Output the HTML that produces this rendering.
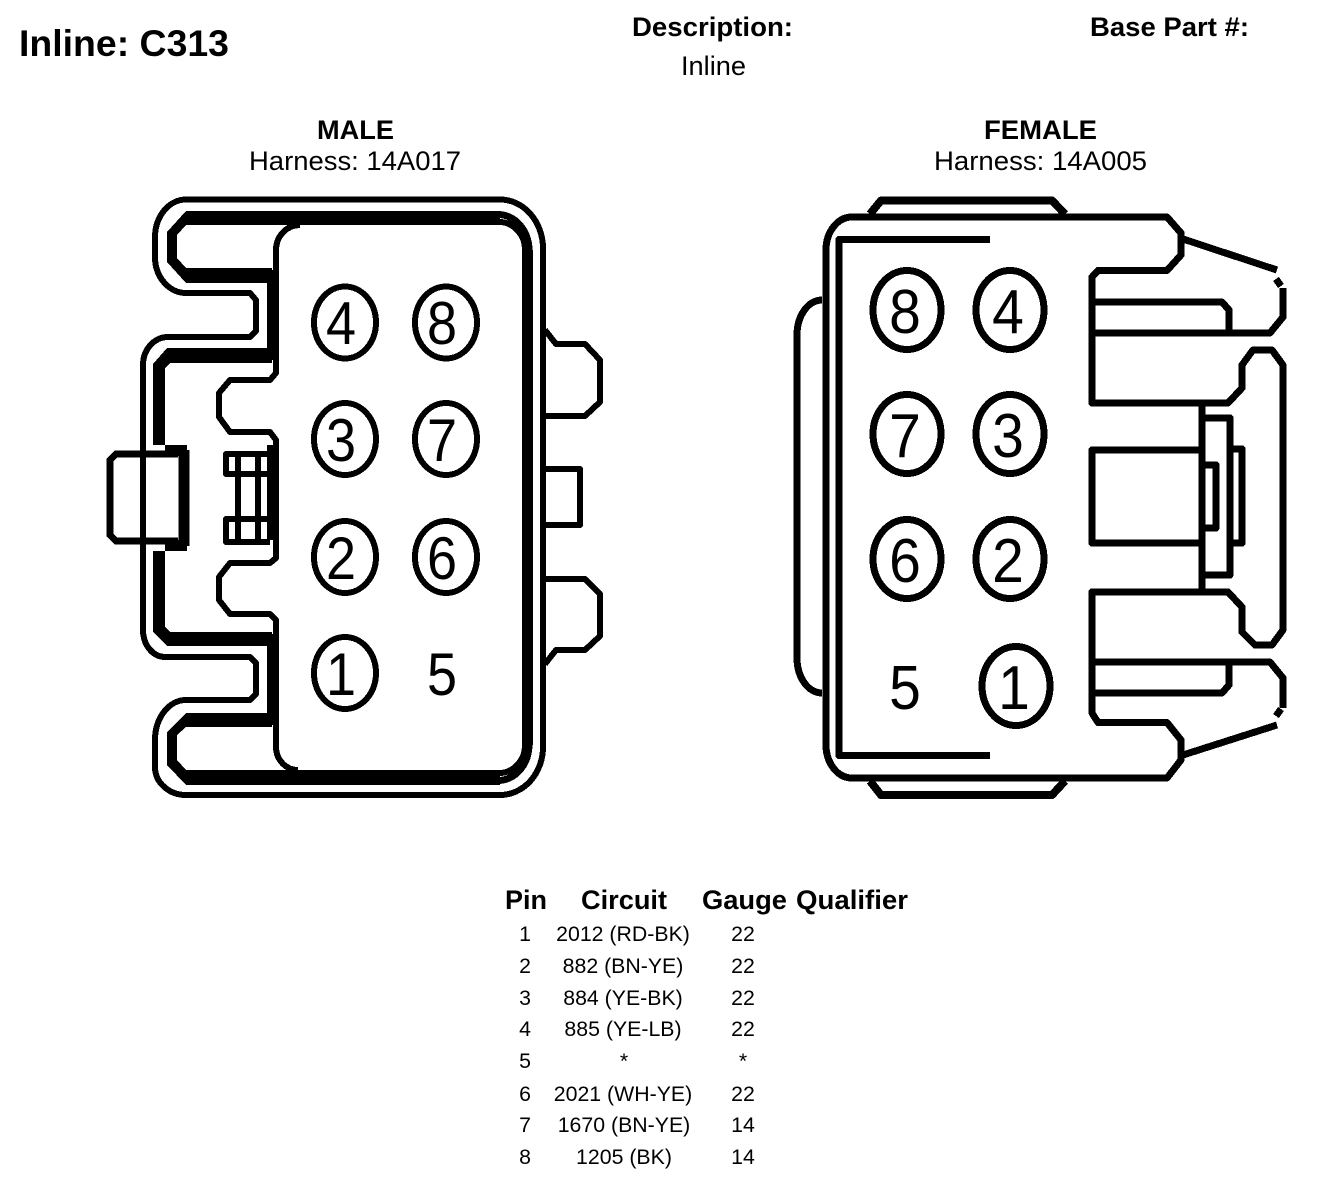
<!DOCTYPE html>
<html><head><meta charset="utf-8"><style>
html,body{margin:0;padding:0;background:#fff;width:1328px;height:1182px;overflow:hidden}
svg{display:block}
text{font-family:"Liberation Sans",sans-serif;fill:#000}
.b{font-weight:bold}
.t{font-size:27px}
.r{font-size:21.3px;text-anchor:middle}
.d{font-size:60px}
.f{font-size:62px}
</style></head><body>
<svg width="1328" height="1182" viewBox="0 0 1328 1182" xmlns="http://www.w3.org/2000/svg" shape-rendering="crispEdges">
<text class="b" x="19" y="56" font-size="37" textLength="210" lengthAdjust="spacingAndGlyphs">Inline: C313</text>
<text class="b t" x="632" y="36" textLength="161" lengthAdjust="spacingAndGlyphs">Description:</text>
<text class="t" x="681" y="75" textLength="65" lengthAdjust="spacingAndGlyphs">Inline</text>
<text class="b t" x="1090" y="36" textLength="159" lengthAdjust="spacingAndGlyphs">Base Part #:</text>
<text class="b t" x="317" y="139" textLength="77" lengthAdjust="spacingAndGlyphs">MALE</text>
<text class="t" x="249" y="170" textLength="212" lengthAdjust="spacingAndGlyphs">Harness: 14A017</text>
<text class="b t" x="984" y="139" textLength="113" lengthAdjust="spacingAndGlyphs">FEMALE</text>
<text class="t" x="934" y="170" textLength="213" lengthAdjust="spacingAndGlyphs">Harness: 14A005</text>

<!-- MALE -->
<path fill="#000" d="M186 211H500V225H186L177 235V258L186 268H272V283H186L167 262V232Z"/>
<path fill="#000" d="M186 713H272V727H186L177 735V760L186 770H500V785H186L167 765V732Z"/>
<path fill="#000" d="M272 348H167L153 364V445H165V368L170 363H272Z"/>
<path fill="#000" d="M272 632H170L165 627V551H153V632L167 646H272Z"/>
<path fill="#000" d="M267 270H278V360H267ZM267 634H278V725H267ZM267 445H278V540H267ZM522 250H533V745H522Z"/>
<g fill="none" stroke="#000" stroke-linejoin="round">
<path stroke-width="6" d="M186 199.500H500A43 49 0 0 1 543 248V747A43 48 0 0 1 500 795H186A31 28 0 0 1 155 767V740A31 40 0 0 1 186 700H250L256 694V663L250 657H165A22 27 0 0 1 143 630V365A25 28 0 0 1 168 337H250L256 331V300L250 293H186A31 36 0 0 1 155 257V237A31 38 0 0 1 186 199.500Z"/>
<path stroke-width="7" d="M498 214.500A31 36 0 0 1 529 250M498 780.500A31 36 0 0 0 529 745"/>
<path stroke-width="6" d="M498 222A26 28 0 0 1 525 250M498 773A26 28 0 0 0 525 745"/>
<path stroke-width="6" d="M300 225A24 25 0 0 0 276 250V373L270 380H230L219 393V417L230 432H270L276 440V558L270 563H230L219 577V600L230 614H270L276 620V747A22 23 0 0 0 298 770"/>
<path stroke-width="7" d="M178 454H116L110 460V535L116 541H178"/>
<path stroke-width="11" d="M184 450V546M165 450.500H187M165 545.500H187"/>
<path stroke-width="6" d="M270 454H226V474H270M270 519H226V542H270M238 454V542M258 454V542"/>
<path stroke-width="6" d="M545 330L556 344H585L600 360V402L585 416H543M543 469H580V525H543M543 579H585L600 594V636L585 650H556L545 664"/>
<g stroke-width="6">
<ellipse cx="345" cy="322.500" rx="31" ry="36"/>
<ellipse cx="446" cy="322.500" rx="31" ry="36"/>
<ellipse cx="345" cy="439" rx="31" ry="36"/>
<ellipse cx="446" cy="439" rx="31" ry="36"/>
<ellipse cx="345" cy="557" rx="31" ry="36"/>
<ellipse cx="446" cy="557" rx="31" ry="36"/>
<ellipse cx="345" cy="673" rx="31" ry="36"/>
</g>
</g>
<g text-anchor="middle">
<text class="d" transform="translate(341 344) scale(.9 1)">4</text>
<text class="d" transform="translate(442 344) scale(.9 1)">8</text>
<text class="d" transform="translate(341 461) scale(.9 1)">3</text>
<text class="d" transform="translate(442 461) scale(.9 1)">7</text>
<text class="d" transform="translate(341 579) scale(.9 1)">2</text>
<text class="d" transform="translate(442 579) scale(.9 1)">6</text>
<text class="d" transform="translate(341 695) scale(.9 1)">1</text>
<text class="d" transform="translate(442 695) scale(.9 1)">5</text>
</g>

<!-- FEMALE -->
<g fill="none" stroke="#000" stroke-width="7" stroke-linejoin="round">
<path d="M852 217H1167L1181 233V255L1167 270.500H1098L1092 277V403H1228L1242 388V365L1253 350H1272L1283 365V630L1272 645H1255L1242 632V607L1228 592H1092V713L1098 722.500H1167L1181 740V760L1167 778H852A26 33 0 0 1 826 745V250A26 33 0 0 1 852 217Z"/>
<path d="M870 214L881 200.500H1052L1065 214M870 781L881 795H1052L1065 781" stroke-width="8"/>
<path d="M990 239.500H839V755.500H990"/>
<path d="M822 300A25 35 0 0 0 797 335V658A25 35 0 0 0 822 693"/>
<path d="M1092 302H1222L1229 310V333M1092 333H1270L1283 317V288M1276 279L1281 286M1183 239L1277 270"/>
<path d="M1092 662H1270L1283 678V708M1276 716L1281 709M1092 693H1222L1229 685V662M1183 755L1277 725"/>
<path d="M1202 450H1092V543H1202M1202 403V592M1202 418H1230V575H1202M1202 465H1216V528H1202M1230 449H1242V543H1230"/>
<g>
<ellipse cx="907" cy="310" rx="34" ry="39.500"/>
<ellipse cx="1010" cy="310" rx="34" ry="39.500"/>
<ellipse cx="907" cy="434" rx="34" ry="39.500"/>
<ellipse cx="1010" cy="434" rx="34" ry="39.500"/>
<ellipse cx="907" cy="559" rx="34" ry="39.500"/>
<ellipse cx="1010" cy="559" rx="34" ry="39.500"/>
<ellipse cx="1016" cy="686" rx="34" ry="39.500"/>
</g>
</g>
<g text-anchor="middle">
<text class="f" transform="translate(905 333) scale(.92 1)">8</text>
<text class="f" transform="translate(1008 333) scale(.92 1)">4</text>
<text class="f" transform="translate(905 457) scale(.92 1)">7</text>
<text class="f" transform="translate(1008 457) scale(.92 1)">3</text>
<text class="f" transform="translate(905 582) scale(.92 1)">6</text>
<text class="f" transform="translate(1008 582) scale(.92 1)">2</text>
<text class="f" transform="translate(905 709) scale(.92 1)">5</text>
<text class="f" transform="translate(1014 709) scale(.92 1)">1</text>
</g>

<!-- TABLE -->
<text class="b t" x="505" y="909" textLength="42" lengthAdjust="spacingAndGlyphs">Pin</text>
<text class="b t" x="581" y="909" textLength="86" lengthAdjust="spacingAndGlyphs">Circuit</text>
<text class="b t" x="702" y="909" textLength="85" lengthAdjust="spacingAndGlyphs">Gauge</text>
<text class="b t" x="796" y="909" textLength="112" lengthAdjust="spacingAndGlyphs">Qualifier</text>
<g>
<text class="r" x="525" y="941">1</text><text class="r" x="623" y="941">2012 (RD-BK)</text><text class="r" x="743" y="941">22</text>
<text class="r" x="525" y="973">2</text><text class="r" x="623" y="973">882 (BN-YE)</text><text class="r" x="743" y="973">22</text>
<text class="r" x="525" y="1005">3</text><text class="r" x="623" y="1005">884 (YE-BK)</text><text class="r" x="743" y="1005">22</text>
<text class="r" x="525" y="1036">4</text><text class="r" x="623" y="1036">885 (YE-LB)</text><text class="r" x="743" y="1036">22</text>
<text class="r" x="525" y="1068">5</text><text class="r" x="624" y="1068">*</text><text class="r" x="743" y="1068">*</text>
<text class="r" x="525" y="1101">6</text><text class="r" x="623" y="1101">2021 (WH-YE)</text><text class="r" x="743" y="1101">22</text>
<text class="r" x="525" y="1132">7</text><text class="r" x="624" y="1132">1670 (BN-YE)</text><text class="r" x="743" y="1132">14</text>
<text class="r" x="525" y="1164">8</text><text class="r" x="624" y="1164">1205 (BK)</text><text class="r" x="743" y="1164">14</text>
</g>
</svg>
</body></html>
